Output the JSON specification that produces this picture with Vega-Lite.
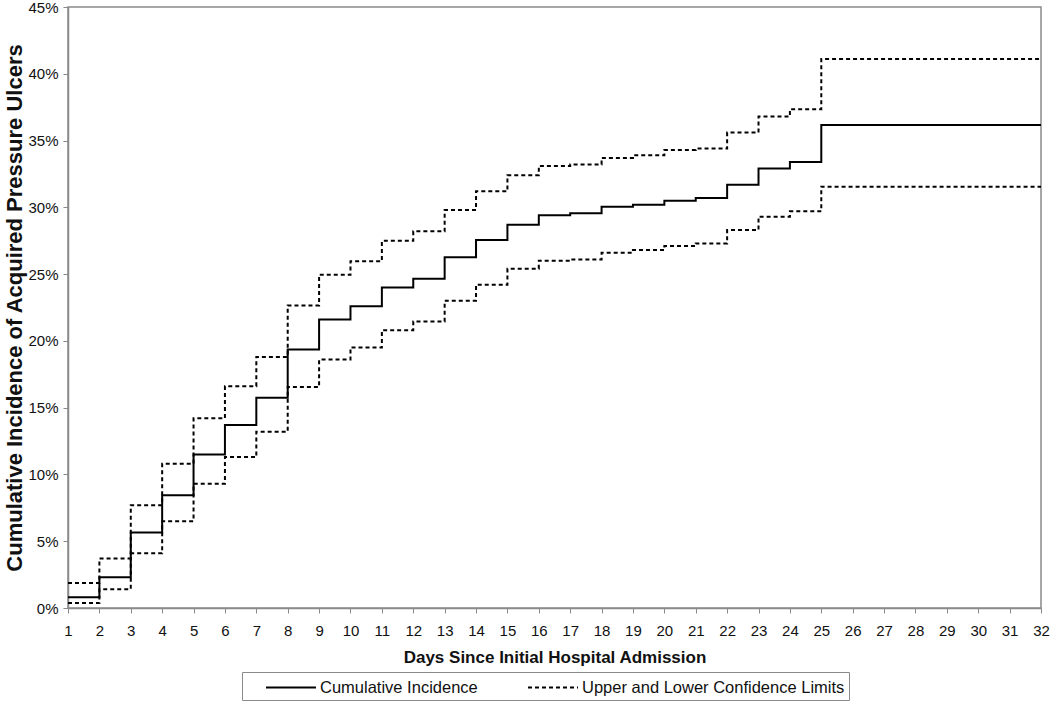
{
  "$schema": "https://vega.github.io/schema/vega-lite/v6.json",
  "autosize": {"type": "none"},
  "width": 973,
  "height": 601,
  "padding": {"left": 68, "top": 7, "right": 9, "bottom": 93},
  "background": "white",
  "config": {
    "view": {"stroke": "#8a8a8a", "strokeWidth": 1.5},
    "font": "Liberation Sans"
  },
  "data": {
    "values": [
      {"day": 1, "value": 0.008, "series": "Cumulative Incidence", "bound": "est"},
      {"day": 2, "value": 0.023, "series": "Cumulative Incidence", "bound": "est"},
      {"day": 3, "value": 0.0566, "series": "Cumulative Incidence", "bound": "est"},
      {"day": 4, "value": 0.0845, "series": "Cumulative Incidence", "bound": "est"},
      {"day": 5, "value": 0.115, "series": "Cumulative Incidence", "bound": "est"},
      {"day": 6, "value": 0.137, "series": "Cumulative Incidence", "bound": "est"},
      {"day": 7, "value": 0.1575, "series": "Cumulative Incidence", "bound": "est"},
      {"day": 8, "value": 0.1936, "series": "Cumulative Incidence", "bound": "est"},
      {"day": 9, "value": 0.216, "series": "Cumulative Incidence", "bound": "est"},
      {"day": 10, "value": 0.226, "series": "Cumulative Incidence", "bound": "est"},
      {"day": 11, "value": 0.24, "series": "Cumulative Incidence", "bound": "est"},
      {"day": 12, "value": 0.2465, "series": "Cumulative Incidence", "bound": "est"},
      {"day": 13, "value": 0.2627, "series": "Cumulative Incidence", "bound": "est"},
      {"day": 14, "value": 0.2756, "series": "Cumulative Incidence", "bound": "est"},
      {"day": 15, "value": 0.287, "series": "Cumulative Incidence", "bound": "est"},
      {"day": 16, "value": 0.294, "series": "Cumulative Incidence", "bound": "est"},
      {"day": 17, "value": 0.2955, "series": "Cumulative Incidence", "bound": "est"},
      {"day": 18, "value": 0.3005, "series": "Cumulative Incidence", "bound": "est"},
      {"day": 19, "value": 0.302, "series": "Cumulative Incidence", "bound": "est"},
      {"day": 20, "value": 0.305, "series": "Cumulative Incidence", "bound": "est"},
      {"day": 21, "value": 0.307, "series": "Cumulative Incidence", "bound": "est"},
      {"day": 22, "value": 0.317, "series": "Cumulative Incidence", "bound": "est"},
      {"day": 23, "value": 0.329, "series": "Cumulative Incidence", "bound": "est"},
      {"day": 24, "value": 0.334, "series": "Cumulative Incidence", "bound": "est"},
      {"day": 25, "value": 0.3616, "series": "Cumulative Incidence", "bound": "est"},
      {"day": 32, "value": 0.3616, "series": "Cumulative Incidence", "bound": "est"},
      {"day": 1, "value": 0.0187, "series": "Upper and Lower Confidence Limits", "bound": "upper"},
      {"day": 2, "value": 0.037, "series": "Upper and Lower Confidence Limits", "bound": "upper"},
      {"day": 3, "value": 0.077, "series": "Upper and Lower Confidence Limits", "bound": "upper"},
      {"day": 4, "value": 0.108, "series": "Upper and Lower Confidence Limits", "bound": "upper"},
      {"day": 5, "value": 0.142, "series": "Upper and Lower Confidence Limits", "bound": "upper"},
      {"day": 6, "value": 0.166, "series": "Upper and Lower Confidence Limits", "bound": "upper"},
      {"day": 7, "value": 0.188, "series": "Upper and Lower Confidence Limits", "bound": "upper"},
      {"day": 8, "value": 0.2265, "series": "Upper and Lower Confidence Limits", "bound": "upper"},
      {"day": 9, "value": 0.2495, "series": "Upper and Lower Confidence Limits", "bound": "upper"},
      {"day": 10, "value": 0.2597, "series": "Upper and Lower Confidence Limits", "bound": "upper"},
      {"day": 11, "value": 0.2749, "series": "Upper and Lower Confidence Limits", "bound": "upper"},
      {"day": 12, "value": 0.282, "series": "Upper and Lower Confidence Limits", "bound": "upper"},
      {"day": 13, "value": 0.298, "series": "Upper and Lower Confidence Limits", "bound": "upper"},
      {"day": 14, "value": 0.312, "series": "Upper and Lower Confidence Limits", "bound": "upper"},
      {"day": 15, "value": 0.324, "series": "Upper and Lower Confidence Limits", "bound": "upper"},
      {"day": 16, "value": 0.331, "series": "Upper and Lower Confidence Limits", "bound": "upper"},
      {"day": 17, "value": 0.332, "series": "Upper and Lower Confidence Limits", "bound": "upper"},
      {"day": 18, "value": 0.337, "series": "Upper and Lower Confidence Limits", "bound": "upper"},
      {"day": 19, "value": 0.339, "series": "Upper and Lower Confidence Limits", "bound": "upper"},
      {"day": 20, "value": 0.343, "series": "Upper and Lower Confidence Limits", "bound": "upper"},
      {"day": 21, "value": 0.344, "series": "Upper and Lower Confidence Limits", "bound": "upper"},
      {"day": 22, "value": 0.356, "series": "Upper and Lower Confidence Limits", "bound": "upper"},
      {"day": 23, "value": 0.368, "series": "Upper and Lower Confidence Limits", "bound": "upper"},
      {"day": 24, "value": 0.3735, "series": "Upper and Lower Confidence Limits", "bound": "upper"},
      {"day": 25, "value": 0.411, "series": "Upper and Lower Confidence Limits", "bound": "upper"},
      {"day": 32, "value": 0.411, "series": "Upper and Lower Confidence Limits", "bound": "upper"},
      {"day": 1, "value": 0.0037, "series": "Upper and Lower Confidence Limits", "bound": "lower"},
      {"day": 2, "value": 0.014, "series": "Upper and Lower Confidence Limits", "bound": "lower"},
      {"day": 3, "value": 0.041, "series": "Upper and Lower Confidence Limits", "bound": "lower"},
      {"day": 4, "value": 0.065, "series": "Upper and Lower Confidence Limits", "bound": "lower"},
      {"day": 5, "value": 0.093, "series": "Upper and Lower Confidence Limits", "bound": "lower"},
      {"day": 6, "value": 0.113, "series": "Upper and Lower Confidence Limits", "bound": "lower"},
      {"day": 7, "value": 0.132, "series": "Upper and Lower Confidence Limits", "bound": "lower"},
      {"day": 8, "value": 0.1655, "series": "Upper and Lower Confidence Limits", "bound": "lower"},
      {"day": 9, "value": 0.186, "series": "Upper and Lower Confidence Limits", "bound": "lower"},
      {"day": 10, "value": 0.195, "series": "Upper and Lower Confidence Limits", "bound": "lower"},
      {"day": 11, "value": 0.208, "series": "Upper and Lower Confidence Limits", "bound": "lower"},
      {"day": 12, "value": 0.2145, "series": "Upper and Lower Confidence Limits", "bound": "lower"},
      {"day": 13, "value": 0.23, "series": "Upper and Lower Confidence Limits", "bound": "lower"},
      {"day": 14, "value": 0.242, "series": "Upper and Lower Confidence Limits", "bound": "lower"},
      {"day": 15, "value": 0.254, "series": "Upper and Lower Confidence Limits", "bound": "lower"},
      {"day": 16, "value": 0.26, "series": "Upper and Lower Confidence Limits", "bound": "lower"},
      {"day": 17, "value": 0.261, "series": "Upper and Lower Confidence Limits", "bound": "lower"},
      {"day": 18, "value": 0.266, "series": "Upper and Lower Confidence Limits", "bound": "lower"},
      {"day": 19, "value": 0.268, "series": "Upper and Lower Confidence Limits", "bound": "lower"},
      {"day": 20, "value": 0.271, "series": "Upper and Lower Confidence Limits", "bound": "lower"},
      {"day": 21, "value": 0.273, "series": "Upper and Lower Confidence Limits", "bound": "lower"},
      {"day": 22, "value": 0.283, "series": "Upper and Lower Confidence Limits", "bound": "lower"},
      {"day": 23, "value": 0.293, "series": "Upper and Lower Confidence Limits", "bound": "lower"},
      {"day": 24, "value": 0.297, "series": "Upper and Lower Confidence Limits", "bound": "lower"},
      {"day": 25, "value": 0.3155, "series": "Upper and Lower Confidence Limits", "bound": "lower"},
      {"day": 32, "value": 0.3155, "series": "Upper and Lower Confidence Limits", "bound": "lower"}
    ]
  },
  "mark": {"type": "line", "interpolate": "step-after", "color": "#000000", "strokeWidth": 2, "strokeCap": "butt"},
  "encoding": {
    "x": {
      "field": "day",
      "type": "quantitative",
      "scale": {"domain": [1, 32], "nice": false, "zero": false},
      "axis": {
        "title": "Days Since Initial Hospital Admission",
        "values": [1,2,3,4,5,6,7,8,9,10,11,12,13,14,15,16,17,18,19,20,21,22,23,24,25,26,27,28,29,30,31,32],
        "format": "d",
        "grid": false,
        "domainColor": "#8a8a8a",
        "domainWidth": 1.5,
        "tickColor": "#8a8a8a",
        "tickSize": 5,
        "labelFont": "Liberation Sans",
        "labelFontSize": 15,
        "labelColor": "#111111",
        "labelPadding": 10,
        "labelFlush": false,
        "labelOverlap": false,
        "titleFont": "Liberation Sans",
        "titleFontSize": 17,
        "titleFontWeight": "bold",
        "titleColor": "#111111",
        "titlePadding": 11
      }
    },
    "y": {
      "field": "value",
      "type": "quantitative",
      "scale": {"domain": [0, 0.45], "nice": false},
      "axis": {
        "title": "Cumulative Incidence of Acquired Pressure Ulcers",
        "values": [0, 0.05, 0.1, 0.15, 0.2, 0.25, 0.3, 0.35, 0.4, 0.45],
        "format": ".0%",
        "grid": false,
        "domainColor": "#8a8a8a",
        "domainWidth": 1.5,
        "tickColor": "#8a8a8a",
        "tickSize": 5,
        "labelFont": "Liberation Sans",
        "labelFontSize": 15,
        "labelColor": "#111111",
        "labelPadding": 5,
        "labelFlush": false,
        "titleFont": "Liberation Sans",
        "titleFontSize": 22,
        "titleFontWeight": "bold",
        "titleColor": "#111111",
        "titlePadding": 1
      }
    },
    "detail": {"field": "bound", "type": "nominal"},
    "strokeDash": {
      "field": "series",
      "type": "nominal",
      "scale": {
        "domain": ["Cumulative Incidence", "Upper and Lower Confidence Limits"],
        "range": [[1, 0], [4, 3]]
      },
      "legend": {
        "title": null,
        "orient": "none",
        "legendX": 174,
        "legendY": 665,
        "direction": "horizontal",
        "strokeColor": "#8a8a8a",
        "fillColor": "white",
        "padding": 4,
        "symbolOffset": 19,
        "symbolType": "M-1,0H3.76",
        "symbolSize": 441,
        "symbolStrokeWidth": 2,
        "symbolStrokeColor": "#000000",
        "labelFont": "Liberation Sans",
        "labelFontSize": 16.5,
        "labelColor": "#111111",
        "labelOffset": 32,
        "labelLimit": 400,
        "columnPadding": 30
      }
    }
  }
}
